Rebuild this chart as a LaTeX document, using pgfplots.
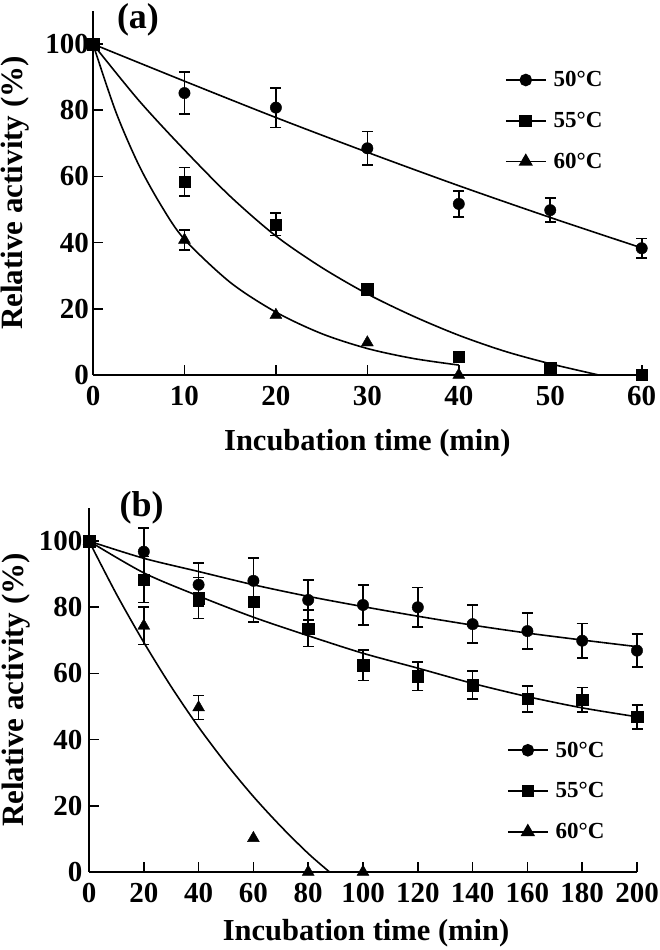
\documentclass[border=0pt]{standalone}
\usepackage{fontspec}
\setmainfont{Liberation Serif}
\usepackage{pgfplots}
\pgfplotsset{compat=1.18}

\pgfplotsset{
  myaxis/.style={
    scale only axis, height=364pt,
    axis x line=bottom, axis y line=left,
    axis line style={line width=2pt, -},
    tick align=inside, major tick length=10pt,
    every tick/.style={line width=1.6pt, black},
    ymin=0, ymax=110, ytick={0,20,...,100},
    /pgf/number format/assume math mode=true,
    tick label style={font=\fontsize{29}{29}\selectfont\bfseries},
    xticklabel style={inner sep=0pt, yshift=-11.5pt},
    xlabel style={font=\fontsize{30.5}{30.5}\selectfont\bfseries},
    ylabel style={font=\fontsize{31}{31}\selectfont\bfseries},
    ylabel={Relative activity (\%)},
    xlabel={Incubation time (min)},
    clip=false,
    legend style={draw=none, fill=none, font=\fontsize{23}{23}\selectfont\bfseries, row sep=20pt, anchor=north west,
      /tikz/every odd column/.append style={column sep=5pt}},
    legend cell align=left,
    legend image code/.code={\draw[##1,mark repeat=2,mark phase=2] plot coordinates {(0pt,0pt)(20pt,0pt)(40pt,0pt)};},
  },
  fitline/.style={line width=1.6pt, smooth, no marks, black},
  errs/.style={only marks, mark=none, forget plot, black,
    error bars/.cd, y dir=both, y explicit,
    error bar style={line width=1.6pt, black},
    error mark options={rotate=90, mark size=5.5pt, line width=1.6pt, black}},
  mcirc/.style={only marks, mark=*, mark size=5.7pt, forget plot, black, mark options={fill=black}},
  msq/.style={only marks, mark=square*, mark size=5.7pt, forget plot, black, mark options={fill=black}},
  mtri/.style={only marks, mark=triangle*, mark size=6.9pt, forget plot, black, mark options={fill=black}},
}

\begin{document}
\begin{tikzpicture}
\path[use as bounding box] (0,0) rectangle (660pt,950pt);

% ---------------- Panel (a) ----------------
\begin{axis}[myaxis,
  at={(93pt,575pt)}, anchor=south west,
  width=548.7pt,
  xmin=0, xmax=60, xtick={0,10,...,60},
  yticklabel style={inner sep=0pt, xshift=-4pt},
  ylabel style={at={(axis description cs:-0.1276,0.5)}, anchor=base},
  xlabel style={at={(axis description cs:0.5,0)}, anchor=base, yshift=-76pt},
  legend style={at={(rel axis cs:0.745,0.845)}},
]
\node[anchor=base, inner sep=0pt, font=\fontsize{36}{36}\selectfont\bfseries] at (rel axis cs:0.082,0.953) {(a)};
% fitted curves
\addplot[fitline, forget plot] coordinates {(0,100)(10,88.8)(20,77.8)(30,67.3)(40,57.2)(50,47.6)(60,38.4)};
\addplot[fitline, forget plot] coordinates {(0,100)(5,83)(10,68)(15,54)(20,42)(25,32.5)(30,24.5)(35,17.8)(40,12)(45,7.2)(50,3.4)(55.3,0)};
\addplot[fitline, forget plot] coordinates {(0,100)(2.5,79.5)(5,63.5)(7.5,51)(10,41)(15,28)(20,19)(25,12.5)(30,8)(35,5)(40,3)};
% error bars
\addplot[errs] coordinates {(10,85.2) +- (0,6.3) (20,80.8) +- (0,6) (30,68.5) +- (0,5.1) (40,51.7) +- (0,3.9) (50,49.8) +- (0,3.6) (60,38.3) +- (0,2.9)};
\addplot[errs] coordinates {(10,58.4) +- (0,4.3) (20,45.5) +- (0,3.4) (30,25.9) +- (0,1.2)};
\addplot[errs] coordinates {(10,40.8) +- (0,3)};
% markers
\addplot[mcirc] coordinates {(0,100)(10,85.2)(20,80.8)(30,68.5)(40,51.7)(50,49.8)(60,38.3)};
\addplot[mtri] coordinates {(0,100)(10,40.8)(20,18.1)(30,9.8)(40,0)};
\addplot[msq] coordinates {(0,100)(10,58.4)(20,45.5)(30,25.9)(40,5.5)(50,2.2)(60,0)};
% legend
\addlegendimage{black, line width=1.6pt, mark=*, mark size=5.5pt, mark options={fill=black}}
\addlegendentry{50°C}
\addlegendimage{black, line width=1.6pt, mark=square*, mark size=5.5pt, mark options={fill=black}}
\addlegendentry{55°C}
\addlegendimage{black, line width=1.6pt, mark=triangle*, mark size=6.7pt, mark options={fill=black}}
\addlegendentry{60°C}
\end{axis}

% ---------------- Panel (b) ----------------
\begin{axis}[myaxis,
  at={(89pt,78pt)}, anchor=south west,
  width=548pt,
  xmin=0, xmax=200, xtick={0,20,...,200},
  yticklabel style={inner sep=0pt, xshift=-6.5pt},
  ylabel style={at={(axis description cs:-0.12,0.5)}, anchor=base},
  xlabel style={at={(axis description cs:0.5055,0)}, anchor=base, yshift=-68pt},
  legend style={at={(rel axis cs:0.757,0.369)}},
]
\node[anchor=base, inner sep=0pt, font=\fontsize{36}{36}\selectfont\bfseries] at (rel axis cs:0.096,0.976) {(b)};
% fitted curves
\addplot[fitline, forget plot] coordinates {(0,100)(20,94.8)(40,90.8)(60,86.8)(80,83.3)(100,80.2)(120,77.3)(140,74.6)(160,72.2)(180,70.1)(200,68.1)};
\addplot[fitline, forget plot] coordinates {(0,100)(20,90.4)(40,83.4)(60,77)(80,71.4)(100,66.1)(120,61.6)(140,57)(160,53)(180,49.6)(200,46.9)};
\addplot[fitline, forget plot] coordinates {(0,100)(10,84)(20,69.4)(30,56)(40,43.8)(50,32.8)(60,22.8)(70,13.8)(80,5.6)(87.8,0)};
% error bars
\addplot[errs] coordinates {(20,96.8) +- (0,7.2) (40,86.8) +- (0,6.5) (60,88) +- (0,6.8) (80,82.2) +- (0,6) (100,80.7) +- (0,6) (120,80) +- (0,6) (140,74.9) +- (0,5.7) (160,72.8) +- (0,5.5) (180,69.9) +- (0,5.2) (200,66.9) +- (0,5)};
\addplot[errs] coordinates {(20,88.4) +- (0,7) (40,82.8) +- (0,6.2) (60,81.6) +- (0,6) (80,73.6) +- (0,5.5) (100,62.5) +- (0,4.6) (120,59.2) +- (0,4.3) (140,56.5) +- (0,4.2) (160,52.3) +- (0,3.9) (180,52) +- (0,3.7) (200,46.9) +- (0,3.6)};
\addplot[errs] coordinates {(20,74.4) +- (0,5.6) (40,49.7) +- (0,3.6)};
% markers
\addplot[mcirc] coordinates {(0,100)(20,96.8)(40,86.8)(60,88)(80,82.2)(100,80.7)(120,80)(140,74.9)(160,72.8)(180,69.9)(200,66.9)};
\addplot[mtri] coordinates {(0,100)(20,74.4)(40,49.7)(60,10.2)(80,0)(100,0)};
\addplot[msq] coordinates {(0,100)(20,88.4)(40,82.8)(60,81.6)(80,73.6)(100,62.5)(120,59.2)(140,56.5)(160,52.3)(180,52)(200,46.9)};
% legend
\addlegendimage{black, line width=1.6pt, mark=*, mark size=5.5pt, mark options={fill=black}}
\addlegendentry{50°C}
\addlegendimage{black, line width=1.6pt, mark=square*, mark size=5.5pt, mark options={fill=black}}
\addlegendentry{55°C}
\addlegendimage{black, line width=1.6pt, mark=triangle*, mark size=6.7pt, mark options={fill=black}}
\addlegendentry{60°C}
\end{axis}
\end{tikzpicture}
\end{document}
